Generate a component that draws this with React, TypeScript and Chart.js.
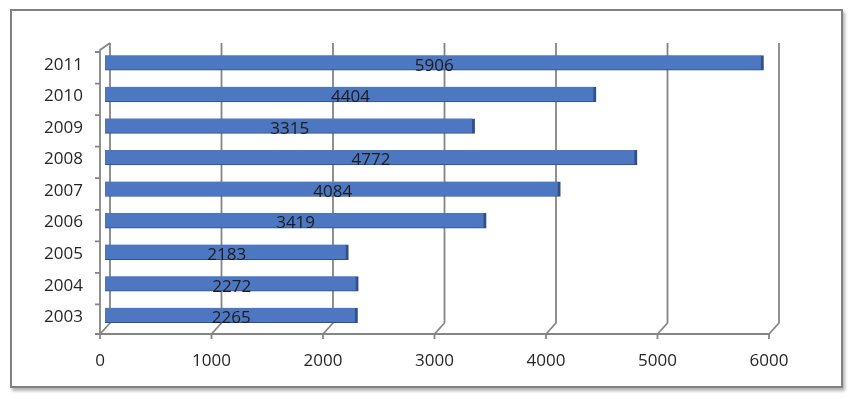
import React, { useEffect, useRef } from "react";
import { Chart, registerables } from "chart.js";

Chart.register(...registerables);

const categories: string[] = ["2003", "2004", "2005", "2006", "2007", "2008", "2009", "2010", "2011"];
const values: number[] = [2265, 2272, 2183, 3419, 4084, 4772, 3315, 4404, 5906];
const tickValues: number[] = [0, 1000, 2000, 3000, 4000, 5000, 6000];

const FONT = "'Open Sans', 'Liberation Sans', sans-serif";
const GRID = "#858585";

const frame3D = {
  id: "frame3D",
  beforeDatasetsDraw(chart: any) {
    const { ctx, chartArea, scales } = chart;
    const xs = scales.x;
    const top = chartArea.top;
    const bottom = chartArea.bottom;
    const backTop = top - 4;
    const backBottom = bottom - 8;
    const frontY = bottom + 3;
    ctx.save();
    ctx.strokeStyle = GRID;
    ctx.lineWidth = 1.8;
    ctx.beginPath();
    tickValues.forEach((v) => {
      const px = xs.getPixelForValue(v);
      ctx.moveTo(px + 5, backTop);
      ctx.lineTo(px + 5, backBottom);
      ctx.lineTo(px - 5, frontY);
      ctx.moveTo(px - 5, frontY);
      ctx.lineTo(px - 5, frontY + 5);
    });
    const x0 = xs.getPixelForValue(tickValues[0]);
    const xN = xs.getPixelForValue(tickValues[tickValues.length - 1]);
    ctx.moveTo(x0 - 5, frontY);
    ctx.lineTo(xN - 5, frontY);
    ctx.moveTo(x0 + 5, backTop);
    ctx.lineTo(x0 - 5, top + 3);
    ctx.lineTo(x0 - 5, frontY);
    const n = categories.length;
    const slot = (bottom - top) / n;
    for (let i = 0; i <= n; i++) {
      const y = Math.min(top + i * slot + 5, frontY);
      ctx.moveTo(x0 - 10, y);
      ctx.lineTo(x0 - 5, y);
    }
    ctx.stroke();
    ctx.restore();
  },
};

const valueLabels = {
  id: "valueLabels",
  afterDatasetsDraw(chart: any) {
    const { ctx } = chart;
    const meta = chart.getDatasetMeta(0);
    ctx.save();
    ctx.font = `17px ${FONT}`;
    ctx.fillStyle = "#1c1c1c";
    ctx.textAlign = "center";
    ctx.textBaseline = "middle";
    meta.data.forEach((el: any, i: number) => {
      const cx = (el.x + el.base) / 2;
      ctx.fillText(String(values[i]), cx, el.y + 3);
    });
    ctx.restore();
  },
};

export default function App() {
  const canvasRef = useRef<HTMLCanvasElement | null>(null);

  useEffect(() => {
    if (!canvasRef.current) return;
    const chart = new Chart(canvasRef.current, {
      type: "bar",
      data: {
        labels: categories,
        datasets: [
          {
            data: values,
            backgroundColor: "#4d77c0",
            borderColor: "#2f5089",
            borderWidth: { top: 0, right: 3, bottom: 1, left: 0 },
            borderSkipped: false,
            barThickness: 15,
          },
        ],
      },
      options: {
        indexAxis: "y",
        animation: false,
        responsive: false,
        maintainAspectRatio: false,
        layout: { padding: { top: 36, right: 67, bottom: 0, left: 0 } },
        plugins: {
          legend: { display: false },
          tooltip: { enabled: false },
        },
        scales: {
          x: {
            min: 0,
            max: 6000,
            afterBuildTicks: (scale: any) => {
              scale.ticks = tickValues.map((v) => ({ value: v }));
            },
            afterFit: (scale: any) => {
              scale.height = 55;
            },
            grid: { display: false, drawTicks: false },
            border: { display: false },
            ticks: {
              font: { family: FONT, size: 17 },
              color: "#262626",
              padding: 20,
              labelOffset: -5,
              maxRotation: 0,
              autoSkip: false,
              callback: (v: any) => String(v),
            },
          },
          y: {
            reverse: true,
            afterFit: (scale: any) => {
              scale.width = 93;
            },
            grid: { display: false, drawTicks: false },
            border: { display: false },
            ticks: {
              font: { family: FONT, size: 17 },
              color: "#262626",
              padding: 22,
              labelOffset: 2,
            },
          },
        },
      },
      plugins: [frame3D, valueLabels],
    });
    return () => chart.destroy();
  }, []);

  return (
    <div
      style={{
        position: "absolute",
        left: 10,
        top: 9,
        width: 833,
        height: 379,
        boxSizing: "border-box",
        border: "2px solid #808080",
        boxShadow: "2px 3px 3px rgba(0,0,0,0.3)",
        background: "#fff",
      }}
    >
      <canvas ref={canvasRef} width={829} height={375} style={{ display: "block" }} />
    </div>
  );
}
